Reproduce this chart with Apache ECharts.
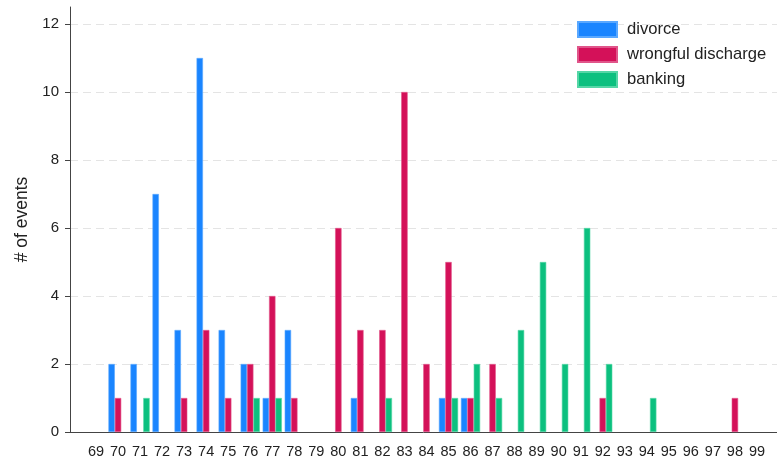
<!DOCTYPE html>
<html>
<head>
<meta charset="utf-8">
<script src="https://cdn.jsdelivr.net/npm/echarts@6/dist/echarts.min.js"></script>
<style>
  html, body { margin: 0; padding: 0; background: #fff; }
  #chart { width: 777px; height: 464px; }
</style>
</head>
<body>
<div id="chart"></div>
<script>
var years = [69, 70, 71, 72, 73, 74, 75, 76, 77, 78, 79, 80, 81, 82, 83, 84,
             85, 86, 87, 88, 89, 90, 91, 92, 93, 94, 95, 96, 97, 98, 99];
var divorce   = [0, 2, 2, 7, 3, 11, 3, 2, 1, 3, 0, 0, 1, 0, 0, 0,
                 1, 1, 0, 0, 0, 0, 0, 0, 0, 0, 0, 0, 0, 0, 0];
var wrongful  = [0, 1, 0, 0, 1, 3, 1, 2, 4, 1, 0, 6, 3, 3, 10, 2,
                 5, 1, 2, 0, 0, 0, 0, 1, 0, 0, 0, 0, 0, 1, 0];
var banking   = [0, 0, 1, 0, 0, 0, 0, 1, 1, 0, 0, 0, 0, 1, 0, 0,
                 1, 2, 1, 3, 5, 2, 6, 2, 0, 1, 0, 0, 0, 0, 0];
var yTicks = [0, 2, 4, 6, 8, 10, 12];

var font = "'Liberation Sans', Arial, sans-serif";

// [year, count] pairs, empty years left out so no stubs are drawn
function pairs(vals) {
  var out = [];
  years.forEach(function (y, i) {
    if (vals[i] > 0) out.push([y, vals[i]]);
  });
  return out;
}

function barSeries(name, vals, color, border) {
  return {
    name: name,
    type: "bar",
    data: pairs(vals),
    barWidth: 6.4,
    barGap: "0%",
    itemStyle: { color: color, borderColor: border, borderWidth: 0.6 },
  };
}

var chart = echarts.init(document.getElementById("chart"));
var option = {
  animation: false,
  textStyle: { fontFamily: font },
  grid: { left: 70, right: 0, top: 7, bottom: 32 },
  legend: {
    orient: "vertical",
    left: 577,
    top: 21,
    padding: 0,
    itemWidth: 39,
    itemHeight: 15,
    itemGap: 8,
    icon: "rect",
    textStyle: { fontSize: 16.6, color: "#222", fontFamily: font, padding: [0, 0, 0, 5] },
  },
  xAxis: {
    type: "value",
    min: 67.82,
    max: 99.91,
    axisLine: { show: true, lineStyle: { color: "#444", width: 1 } },
    axisTick: { show: false },
    splitLine: { show: false },
    axisLabel: {
      customValues: years,
      color: "#222",
      fontSize: 14.5,
      margin: 12,
      fontFamily: font,
    },
  },
  yAxis: {
    type: "value",
    min: 0,
    max: 12.5,
    interval: 2,
    name: "# of events",
    nameLocation: "middle",
    nameGap: 39,
    nameTextStyle: { fontSize: 17.5, color: "#222", fontFamily: font },
    axisLine: { show: true, lineStyle: { color: "#444", width: 1 } },
    axisTick: { show: true, length: 5, customValues: yTicks, lineStyle: { color: "#444" } },
    axisLabel: {
      customValues: yTicks,
      color: "#222",
      fontSize: 15,
      margin: 11,
      fontFamily: font,
    },
    splitLine: {
      show: true,
      lineStyle: {
        color: ["transparent", "#e4e4e4", "#e4e4e4", "#e4e4e4", "#e4e4e4", "#e4e4e4", "#e4e4e4", "transparent"],
        type: [8, 5],
        width: 1,
      },
    },
  },
  series: [
    barSeries("divorce", divorce, "#1a85ff", "#5aa8ff"),
    barSeries("wrongful discharge", wrongful, "#d41159", "#e0558a"),
    barSeries("banking", banking, "#0cc07f", "#55d6a6"),
  ],
};
chart.setOption(option);
</script>
</body>
</html>
